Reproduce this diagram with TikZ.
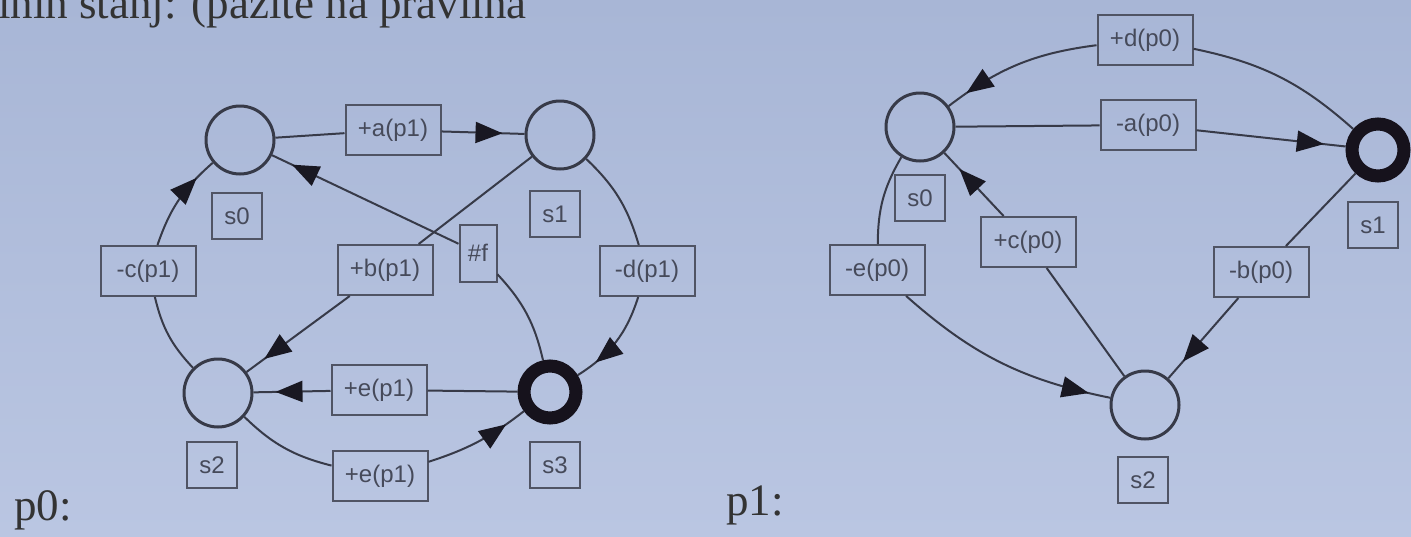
\documentclass[tikz,border=0pt]{standalone}
\usepackage{fontspec}
\setmainfont{Liberation Serif}
\newfontfamily\labfont{Liberation Sans}
\usetikzlibrary{arrows.meta,decorations.markings}
\definecolor{bgtop}{RGB}{168,182,214}
\definecolor{bgbot}{RGB}{186,198,226}
\definecolor{inkc}{RGB}{55,58,72}
\definecolor{boxc}{RGB}{80,84,100}
\definecolor{txtc}{RGB}{70,74,90}
\definecolor{thickc}{RGB}{22,18,28}
\definecolor{tipc}{RGB}{25,24,34}
\tikzset{
  st/.style={circle,draw=inkc,line width=3pt,minimum size=68pt,inner sep=0pt},
  stb/.style={circle,draw=thickc,line width=13pt,minimum size=52pt,inner sep=0pt},
  sl/.style={draw=boxc,line width=2pt,font=\labfont\fontsize{24}{26}\selectfont,text=txtc,
             minimum width=50pt,minimum height=46pt,inner xsep=9pt},
  el/.style={draw=boxc,line width=2pt,font=\labfont\fontsize{24}{26}\selectfont,text=txtc,
             minimum width=95pt,minimum height=50pt,inner xsep=9pt},
  ln/.style={draw=inkc,line width=2pt},
  tipat/.style={postaction={decorate},decoration={markings,
     mark=at position #1 with {\arrow[tipc]{Triangle[length=27pt,width=21pt]}}}},
  big/.style={font=\fontsize{45}{50}\selectfont,text=black!80,inner sep=0pt}
}
\begin{document}
\begin{tikzpicture}[x=1pt,y=-1pt]
\useasboundingbox (0,0) rectangle (1411,536);
\clip (0,0) rectangle (1411,536);
\shade[top color=bgtop,bottom color=bgbot] (0,0) rectangle (1411,536);

% header and captions
\node[big,anchor=base west] (hdr) at (-2,18) {lnih stanj: (pazite na pravilna};
\node[big,anchor=base west] (cap0) at (14,520) {p0:};
\node[big,anchor=base west] (cap1) at (726,515) {p1:};

% ---------- p0 graph ----------
\node[st]  (a0) at (240,140) {};
\node[st]  (a1) at (560,135) {};
\node[st]  (a2) at (218,393) {};
\node[stb] (a3) at (550,392) {};
\node[sl] (la0) at (237,216) {s0};
\node[sl] (la1) at (555,214) {s1};
\node[sl] (la2) at (212,465) {s2};
\node[sl] (la3) at (555,465) {s3};

\node[el] (ea)  at (393,130) {+a(p1)};
\node[el] (ec)  at (148,271) {-c(p1)};
\node[el] (eb)  at (385,270) {+b(p1)};
\node[el,minimum width=37pt,minimum height=57pt,inner xsep=6pt] (ef) at (478,253) {\#f};
\node[el] (ed)  at (647,271) {-d(p1)};
\node[el] (ee1) at (379,390) {+e(p1)};
\node[el] (ee2) at (380,476) {+e(p1)};

\draw[ln] (a0) -- (ea);
\draw[ln,tipat=-22pt] (ea) -- (a1);
\draw[ln] (a3) to[bend right=15] (ef);
\draw[ln,tipat=-22pt] (ef) -- (a0);
\draw[ln] (a1) -- (eb);
\draw[ln,tipat=-22pt] (eb) -- (a2);
\draw[ln] (a1) to[bend left=15] (ed);
\draw[ln,tipat=-22pt] (ed) to[bend left=20] (a3);
\draw[ln] (a2) to[bend left=15] (ec);
\draw[ln,tipat=-22pt] (ec) to[bend left=15] (a0);
\draw[ln] (a3) -- (ee1);
\draw[ln,tipat=-22pt] (ee1) -- (a2);
\draw[ln] (a2) to[bend right=15] (ee2);
\draw[ln,tipat=-22pt] (ee2) to[bend right=10] (a3);

% ---------- p1 graph ----------
\node[st]  (b0) at (920,127) {};
\node[stb] (b1) at (1378,150) {};
\node[st]  (b2) at (1145,405) {};
\node[sl] (lb0) at (920,198) {s0};
\node[sl] (lb1) at (1373,225) {s1};
\node[sl] (lb2) at (1143,480) {s2};

\node[el] (ed0) at (1145,40)  {+d(p0)};
\node[el] (ea0) at (1148,125) {-a(p0)};
\node[el] (ec0) at (1028,242) {+c(p0)};
\node[el] (ee0) at (877,270)  {-e(p0)};
\node[el] (eb0) at (1261,272) {-b(p0)};

\draw[ln] (b1) to[bend right=15] (ed0);
\draw[ln,tipat=-22pt] (ed0) to[bend right=15] (b0);
\draw[ln] (b0) -- (ea0);
\draw[ln,tipat=-22pt] (ea0) -- (b1);
\draw[ln] (b2) -- (ec0);
\draw[ln,tipat=-22pt] (ec0) -- (b0);
\draw[ln] (b0) to[bend right=15] (ee0);
\draw[ln,tipat=-22pt] (ee0) to[bend right=15] (b2);
\draw[ln] (b1) -- (eb0);
\draw[ln,tipat=-22pt] (eb0) -- (b2);
\end{tikzpicture}
\end{document}
